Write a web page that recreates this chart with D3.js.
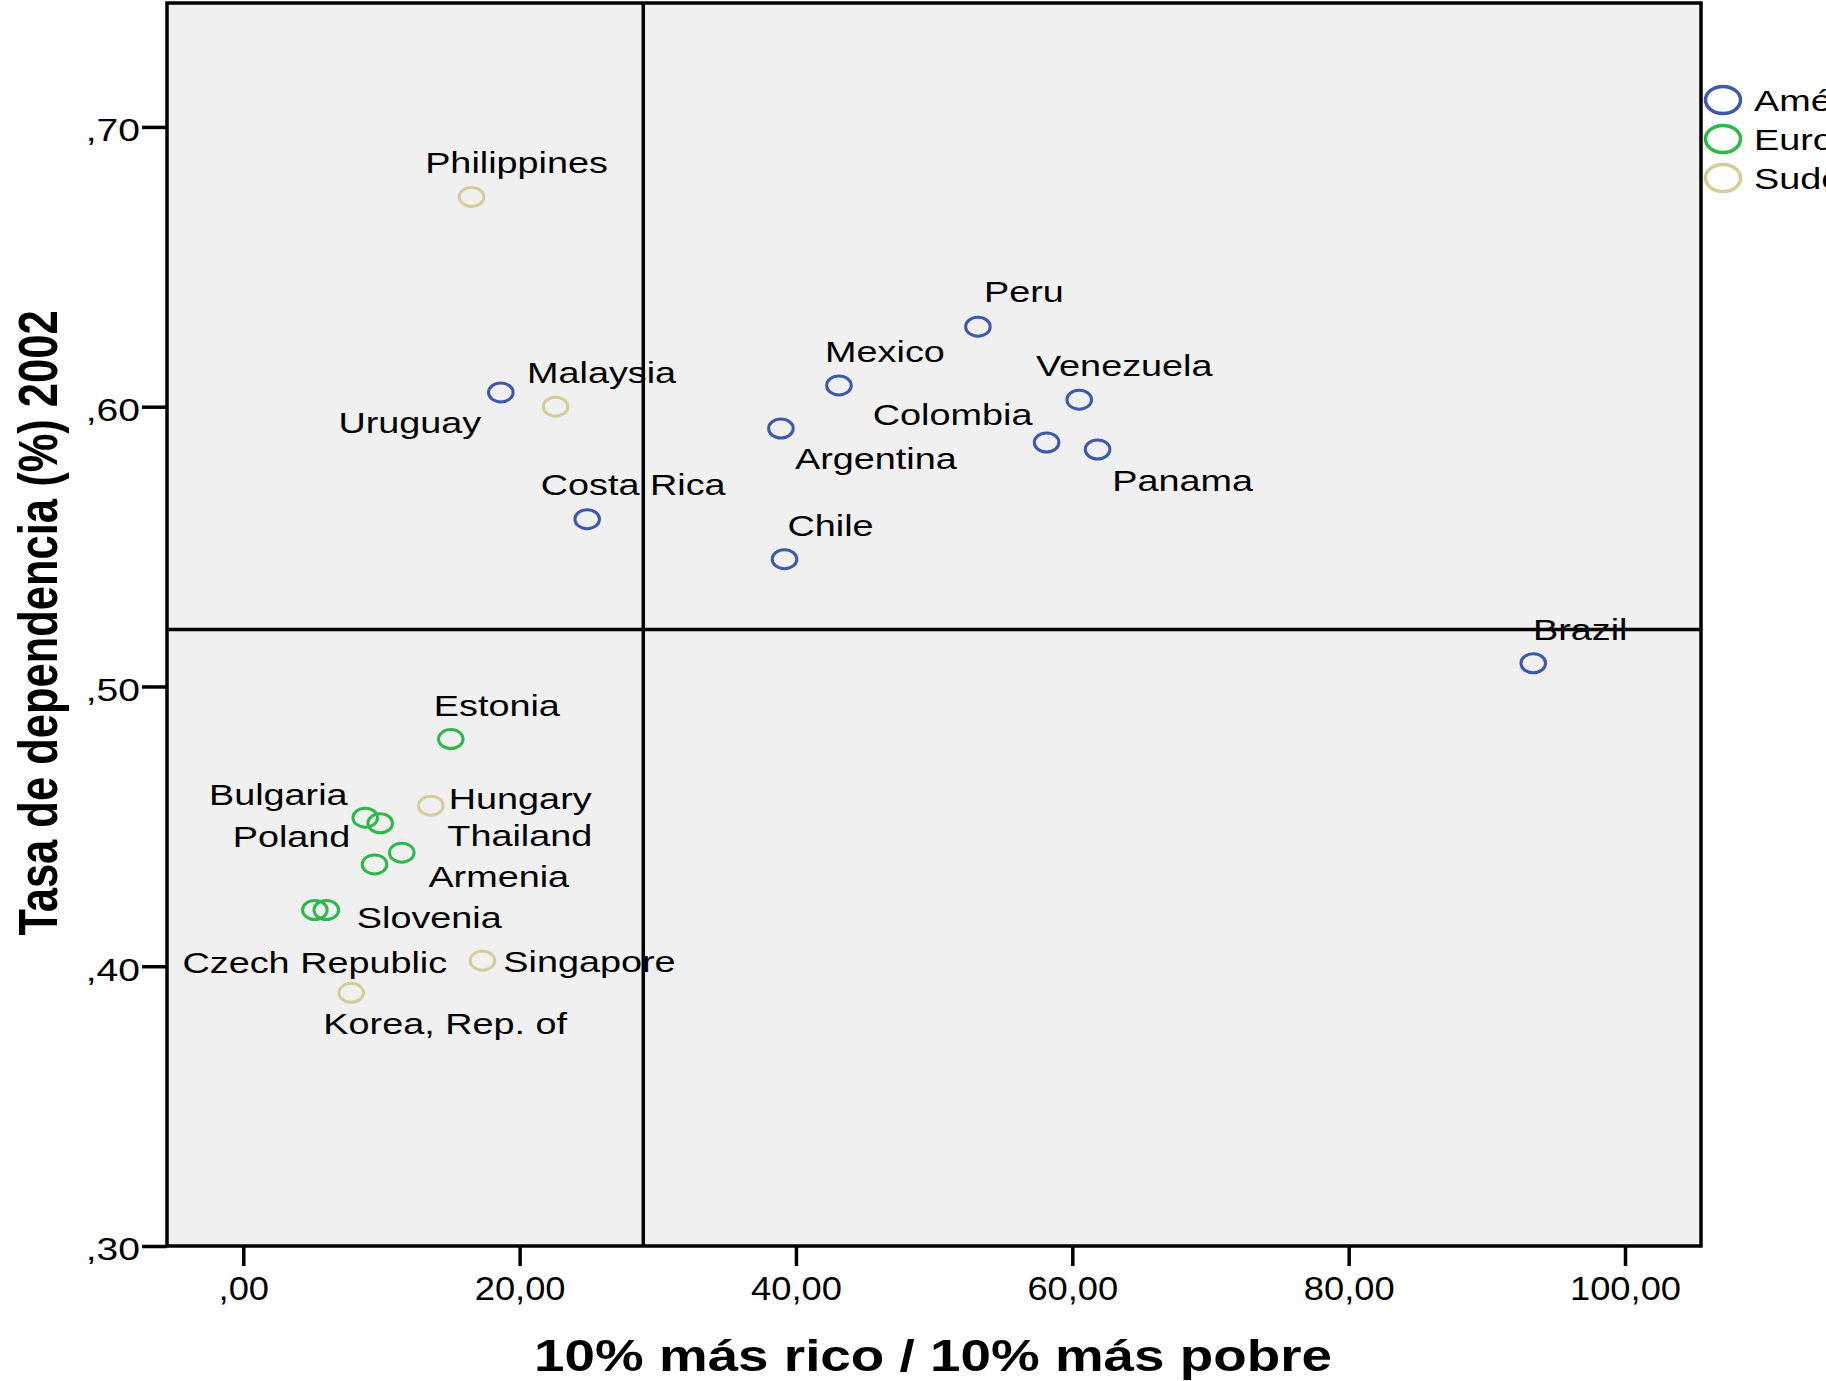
<!DOCTYPE html>
<html>
<head>
<meta charset="utf-8">
<script src="https://cdn.jsdelivr.net/npm/d3@7"></script>
<style>
  body { margin: 0; background: #fff; }
  svg { display: block; font-family: "Liberation Sans", Arial, sans-serif; }
</style>
</head>
<body>
<div id="chart"></div>
<script>
// data
var regions = ["América Latina", "Europa del Este", "Sudeste asiático"];

var countries = ["Uruguay", "Costa Rica", "Argentina", "Chile", "Mexico", "Peru",
    "Colombia", "Venezuela", "Panama", "Brazil",
    "Estonia", "Bulgaria", "Hungary", "Armenia", "Poland", "Slovenia", "Czech Republic",
    "Philippines", "Malaysia", "Thailand", "Singapore", "Korea, Rep. of"];

var regionOf = [0, 0, 0, 0, 0, 0, 0, 0, 0, 0,
    1, 1, 1, 1, 1, 1, 1,
    2, 2, 2, 2, 2];

// 10% mas rico / 10% mas pobre
var richPoor = [18.64, 24.89, 38.91, 39.17, 43.11, 53.17, 58.14, 60.50, 61.83, 93.36,
    15.02, 8.83, 9.91, 11.47, 9.50, 6.01, 5.18,
    16.52, 22.60, 13.57, 17.31, 7.81];

// tasa de dependencia 2002
var dependency = [0.6051, 0.5598, 0.5922, 0.5455, 0.6076, 0.6286, 0.5872, 0.6025, 0.5847, 0.5083,
    0.4812, 0.4531, 0.4511, 0.4406, 0.4364, 0.4201, 0.4201,
    0.6750, 0.6000, 0.4574, 0.4020, 0.3905];

// reference lines
var refX = 28.95;
var refY = 0.5204;

var xTicks = [0, 20, 40, 60, 80, 100];
var xTickLabels = [",00", "20,00", "40,00", "60,00", "80,00", "100,00"];
var yTicks = [0.30, 0.40, 0.50, 0.60, 0.70];
var yTickLabels = [",30", ",40", ",50", ",60", ",70"];

// label placement (pixels from the marker, label centre)
var labelOffset = {
    "Uruguay": [-91, 30], "Costa Rica": [46, -35], "Argentina": [95, 30], "Chile": [46, -34],
    "Mexico": [46, -34], "Peru": [46, -35], "Colombia": [-94, -28], "Venezuela": [45, -34],
    "Panama": [85, 31], "Brazil": [47, -34], "Estonia": [46, -34], "Bulgaria": [-87, -23],
    "Hungary": [140, -25], "Armenia": [97, 24], "Poland": [-83, -28], "Slovenia": [103, 7],
    "Czech Republic": [0, 52], "Philippines": [45, -35], "Malaysia": [46, -34],
    "Thailand": [89, 30], "Singapore": [107, 1], "Korea, Rep. of": [94, 30]
};

// the exported chart is stretched sideways
var SX = 1.26;

var margin = {top: 3, right: 125, bottom: 135, left: 167},
    width = 1826 - margin.left - margin.right,
    height = 1381 - margin.top - margin.bottom;

var color = d3.scaleOrdinal()
    .domain(regions)
    .range(["#3E58AC", "#2EB848", "#D3CE97"]);

var x = d3.scaleLinear().domain([-5.52, 105.5]).range([0, width]);
var y = d3.scaleLinear().domain([0.30, 0.7443]).range([height, 0]);

var points = countries.map(function(c, i) {
    return {name: c, region: regions[regionOf[i]], x: richPoor[i], y: dependency[i]};
});

var svg = d3.select("#chart").append("svg")
    .attr("width", 1826)
    .attr("height", 1381);

var g = svg.append("g")
    .attr("transform", "translate(" + margin.left + "," + margin.top + ")");

// plot background
g.append("rect")
    .attr("width", width)
    .attr("height", height)
    .attr("fill", "#f0f0f0");

// stretch text horizontally around its anchor
function stretch(sel, sx) {
    sx = sx || SX;
    sel.each(function() {
        var t = d3.select(this);
        var tx = +t.attr("x") || 0, ty = +t.attr("y") || 0;
        t.attr("x", 0).attr("y", 0)
            .attr("transform", "translate(" + tx + "," + ty + ") scale(" + sx + ",1)");
    });
}

// axes
var yAxis = g.append("g")
    .call(d3.axisLeft(y)
        .tickValues(yTicks)
        .tickFormat(function(d, i) { return yTickLabels[i]; })
        .tickSizeInner(25).tickSizeOuter(0).tickPadding(2));

var xAxis = g.append("g")
    .attr("transform", "translate(0," + height + ")")
    .call(d3.axisBottom(x)
        .tickValues(xTicks)
        .tickFormat(function(d, i) { return xTickLabels[i]; })
        .tickSizeInner(20).tickSizeOuter(0).tickPadding(11));

[yAxis, xAxis].forEach(function(ax) {
    ax.select(".domain").remove();
    ax.selectAll(".tick line").attr("stroke", "#000").attr("stroke-width", 3.5);
    ax.selectAll(".tick text")
        .attr("fill", "#000")
        .style("font-family", "Liberation Sans, Arial, sans-serif")
        .style("font-size", "31px");
});
yAxis.selectAll(".tick text").attr("dy", "0.45em");
xAxis.selectAll(".tick text").style("font-size", "33px");
stretch(yAxis.selectAll(".tick text"));
stretch(xAxis.selectAll(".tick text"), 1.1);

// markers
g.selectAll(".pt")
    .data(points)
    .enter().append("ellipse")
    .attr("class", "pt")
    .attr("cx", function(d) { return x(d.x); })
    .attr("cy", function(d) { return y(d.y); })
    .attr("rx", 12.3)
    .attr("ry", 9.5)
    .attr("fill", "none")
    .attr("stroke", function(d) { return color(d.region); })
    .attr("stroke-width", 3);

// point labels
g.selectAll(".lbl")
    .data(points)
    .enter().append("text")
    .attr("class", "lbl")
    .attr("x", function(d) { return x(d.x) + labelOffset[d.name][0]; })
    .attr("y", function(d) { return y(d.y) + labelOffset[d.name][1] + 10.7; })
    .attr("text-anchor", "middle")
    .style("font-size", "30px")
    .text(function(d) { return d.name; })
    .call(stretch);

// reference lines (drawn over the labels, like the original)
g.append("line")
    .attr("x1", x(refX)).attr("x2", x(refX))
    .attr("y1", 0).attr("y2", height)
    .attr("stroke", "#000").attr("stroke-width", 3.5);

g.append("line")
    .attr("x1", 0).attr("x2", width)
    .attr("y1", y(refY)).attr("y2", y(refY))
    .attr("stroke", "#000").attr("stroke-width", 3.5);

// frame
g.append("rect")
    .attr("width", width)
    .attr("height", height)
    .attr("fill", "none")
    .attr("stroke", "#000")
    .attr("stroke-width", 3.5);

// axis titles
g.append("text")
    .attr("x", 766)
    .attr("y", 1368)
    .attr("text-anchor", "middle")
    .style("font-size", "43.5px")
    .style("font-weight", "bold")
    .text("10% más rico / 10% más pobre")
    .call(stretch);

svg.append("text")
    .attr("transform", "translate(57,623) rotate(-90) scale(1," + SX + ")")
    .attr("text-anchor", "middle")
    .style("font-size", "43.5px")
    .style("font-weight", "bold")
    .text("Tasa de dependencia (%) 2002");

// legend
var legend = svg.selectAll(".legend")
    .data(regions)
    .enter().append("g")
    .attr("class", "legend")
    .attr("transform", function(d, i) { return "translate(1723," + (100 + i * 39) + ")"; });

legend.append("ellipse")
    .attr("rx", 17.5)
    .attr("ry", 13.5)
    .attr("fill", "none")
    .attr("stroke", function(d) { return color(d); })
    .attr("stroke-width", 3.5);

legend.append("text")
    .attr("x", 31)
    .attr("y", 10.7)
    .style("font-size", "30px")
    .text(function(d) { return d; })
    .call(stretch);
</script>
</body>
</html>
